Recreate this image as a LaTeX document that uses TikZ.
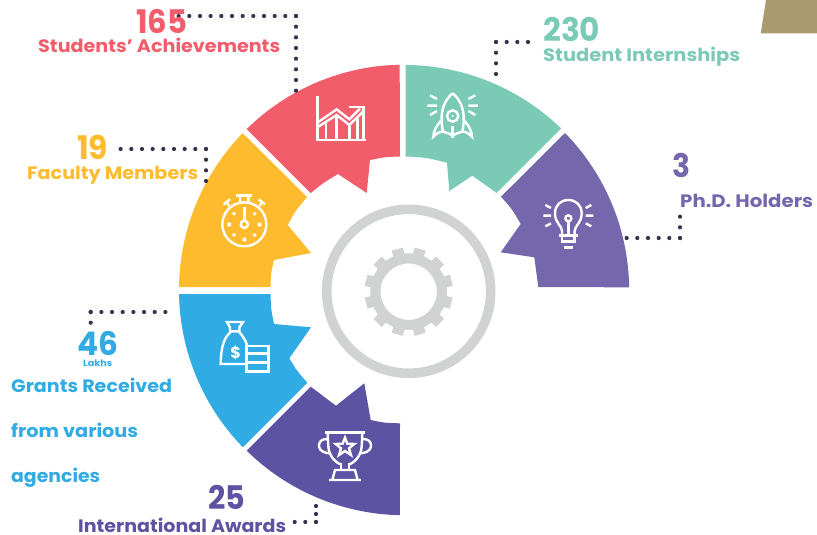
\documentclass[tikz,border=0pt]{standalone}
\usepackage{fontspec}
\usepackage{graphicx}
\setmainfont{Poppins}
\definecolor{cred}{HTML}{F25D6C}
\definecolor{cyel}{HTML}{FEBB2E}
\definecolor{cteal}{HTML}{7ACAB6}
\definecolor{cpur}{HTML}{7467AB}
\definecolor{cblue}{HTML}{30ABE3}
\definecolor{cdark}{HTML}{5C53A2}
\definecolor{cdot}{HTML}{33334D}
\definecolor{cgrey}{HTML}{D1D3D2}
\definecolor{ctan}{HTML}{AA9A6E}
\newcommand{\tw}[2]{\resizebox{#1pt}{\height}{#2}}
\tikzset{
  lbl/.style={inner sep=0pt,anchor=base west,font=\bfseries\fontsize{18}{20}\selectfont},
  big/.style={inner sep=0pt,anchor=base west,font=\bfseries\fontsize{32.5}{34}\selectfont},
  dotline/.style={draw=cdot,line width=4.2pt,line cap=round,dash pattern=on 0pt off 10.67pt},
  shortdots/.style={draw=cdot,line width=4.2pt,line cap=round,dash pattern=on 0pt off 8pt},
  icon/.style={draw=white,line width=2.4pt,line cap=butt,line join=miter},
  zoomgrid/.style={x=0.3333pt,y=-0.3333pt},
}
\begin{document}
\begin{tikzpicture}[x=1pt,y=-1pt]
\useasboundingbox (0,0) rectangle (817,535);
% tan corner
\fill[ctan] (760.7,33.5) -- (766,0) -- (817,0) -- (817,33.5) -- cycle;
% segments
\fill[cred] (246.7,129) arc[start angle=-134.43,end angle=-91.15,radius=225] -- (400,156.5)
  .. controls (385,157) .. (370,160) -- (366.7,193) -- (338,174) .. controls (323,183) .. (310.7,193) -- cycle;
\fill[cyel] (179,287) arc[start angle=-179.2,end angle=-135.87,radius=225.5] -- (307,197)
  .. controls (296,210) .. (287.7,225) -- (311,253) -- (274,260) .. controls (271,273) .. (270.5,287) -- cycle;
\fill[cteal] (405.5,65) arc[start angle=-89.75,end angle=-45.87,radius=225] -- (496.7,193)
  .. controls (485,183.5) .. (472.3,175.7) -- (449.3,191) -- (447,162.7) .. controls (426,157.5) .. (405.5,156.5) -- cycle;
\fill[cpur] (565,133) arc[start angle=-44.37,end angle=-0.76,radius=225] -- (538.3,287)
  .. controls (537,272) .. (534.3,257.3) -- (500.7,252.3) -- (520.7,224) .. controls (512,209) .. (501,196.7) -- cycle;
\fill[cblue] (179,294) arc[start angle=178.98,end angle=135.8,radius=225.5] -- (307.3,382.7)
  .. controls (297,371) .. (289.3,358.3) -- (311,327.3) -- (274,324) .. controls (271,309) .. (270.5,294) -- cycle;
\fill[cdark] (246.7,450.7) arc[start angle=134.5,end angle=91.15,radius=225] -- (400,423.3)
  .. controls (385,423) .. (370.7,420) -- (364.3,383.3) -- (336,405.7) .. controls (323,397) .. (310.7,386.7) -- cycle;
% ring and gear
\coordinate (ringc) at (408.7,291.3);
\node[draw=cgrey,line width=9.6pt,circle,minimum size=164pt,inner sep=0pt] (ring) at (ringc) {};
\begin{scope}[shift={(408.7,291.7)}]
\fill[cgrey,even odd rule] (7:38.5)
  \foreach \a in {15,45,...,345} { -- (\a-8.5:38.5) -- (\a-7.5:44.5) -- (\a+7.5:44.5) -- (\a+8.5:38.5) } -- cycle
  (0,0) circle[radius=28.2];
\end{scope}
% chart icon
\begin{scope}[shift={(310,90)},zoomgrid]
\draw[icon] (22,18) -- (22,150) -- (168,150);
\draw[icon] (22,112) -- (80,75) -- (118,105) -- (158,66);
\draw[icon] (22,98) -- (80,58) -- (118,88) -- (150,56);
\draw[icon] (118,51) -- (160,51) -- (160,150);
\draw[icon] (48,98) -- (48,150) (80,78) -- (80,150) (118,108) -- (118,150) (142,85) -- (142,150);
\end{scope}
% rocket icon
\begin{scope}[shift={(425,90)},zoomgrid]
\draw[icon] (83,10) .. controls (60,28) and (48,60) .. (50,90) .. controls (50,105) and (52,115) .. (54,125);
\draw[icon] (83,10) .. controls (106,28) and (118,60) .. (116,90) .. controls (116,105) and (114,115) .. (112,125);
\draw[icon] (83,78) circle[radius=17];
\fill[white] (83,78) circle[radius=3.5];
\draw[icon] (48,92) .. controls (34,108) and (26,122) .. (25,140) .. controls (35,130) and (45,124) .. (54,125) .. controls (65,127) and (75,132) .. (83,137)
  .. controls (91,132) and (101,127) .. (112,125) .. controls (121,124) and (131,130) .. (141,140) .. controls (140,122) and (132,108) .. (118,92);
\draw[icon] (83,108) -- (83,145);
\draw[icon] (15,16) -- (36,27) (7,47) -- (36,47) (15,75) -- (36,63);
\draw[icon] (151,16) -- (130,27) (159,47) -- (130,47) (151,75) -- (130,63);
\end{scope}
% stopwatch icon
\begin{scope}[shift={(215,190)},zoomgrid]
\draw[icon] (88,103) circle[radius=66];
\draw[icon] (88,103) circle[radius=11];
\draw[icon] (88,92) -- (88,52);
\draw[icon] (62,16) -- (112,16) (75,16) -- (75,38) (100,16) -- (100,38);
\draw[icon] (26,43) -- (45,28) (34,34) -- (42,48);
\draw[icon] (150,43) -- (131,28) (142,34) -- (134,48);
\fill[white] (37,98) rectangle (48,109) (128,98) rectangle (139,109) (83,143) rectangle (94,154);
\fill[white] (57,65) -- (63,71) -- (57,77) -- (51,71) -- cycle (119,65) -- (125,71) -- (119,77) -- (113,71) -- cycle
  (57,129) -- (63,135) -- (57,141) -- (51,135) -- cycle (119,129) -- (125,135) -- (119,141) -- (113,135) -- cycle;
\end{scope}
% bulb icon
\begin{scope}[shift={(540,195)},zoomgrid]
\draw[icon] (66,122) -- (66,108) .. controls (66,92) and (45,85) .. (45,55) .. controls (45,30) and (63,15) .. (85,15) .. controls (107,15) and (125,30) .. (125,55) .. controls (125,85) and (104,92) .. (104,108) -- (104,122);
\draw[icon] (85,70) circle[radius=9];
\draw[icon] (85,79) -- (85,122);
\draw[icon] (56,122) -- (114,122) (66,122) -- (66,140) -- (104,140) -- (104,122);
\draw[icon] (71,158) -- (99,158);
\draw[icon] (16,30) -- (33,39) (10,62) -- (33,62) (16,94) -- (33,85);
\draw[icon] (154,30) -- (137,39) (160,62) -- (137,62) (154,94) -- (137,85);
\end{scope}
% money bag icon
\begin{scope}[shift={(215,318)},zoomgrid]
\draw[icon] (36,12) -- (84,12) -- (73,28) -- (73,40) -- (45,40) -- (45,28) -- cycle;
\draw[icon] (48,42) .. controls (30,55) and (18,80) .. (17,138) -- (95,138);
\draw[icon] (72,42) .. controls (80,50) and (90,62) .. (97,84);
\draw[icon] (95,84) rectangle (160,107) (95,107) rectangle (160,133) (95,133) rectangle (160,160);
\node[font=\bfseries\fontsize{16}{16}\selectfont,text=white,inner sep=0pt] (dollar) at (62,105) {\$};
\end{scope}
% trophy icon
\begin{scope}[shift={(315,425)},zoomgrid]
\draw[icon] (30,22) -- (150,22);
\draw[icon] (38,22) -- (40,65) .. controls (42,95) and (65,115) .. (78,118) (142,22) -- (140,65) .. controls (138,95) and (115,115) .. (102,118);
\draw[icon] (40,44) .. controls (20,38) and (10,52) .. (12,65) .. controls (14,78) and (30,85) .. (46,85);
\draw[icon] (140,44) .. controls (160,38) and (170,52) .. (168,65) .. controls (166,78) and (150,85) .. (134,85);
\draw[icon] (90,38) -- (97,56) -- (118,57) -- (102,70) -- (108,90) -- (90,78) -- (72,90) -- (78,70) -- (62,57) -- (83,56) -- cycle;
\draw[icon] (78,115) -- (78,135) (102,115) -- (102,135);
\draw[icon] (42,165) -- (138,165) (52,165) -- (60,135) -- (120,135) -- (128,165);
\end{scope}
% leader dots
\coordinate (r0) at (296,16); \coordinate (r1) at (178,16); \coordinate (r2) at (296,92.5);
\draw[dotline] (r0) -- (r1); \draw[dotline] (r0) -- (r2);
\coordinate (t0) at (496,42); \coordinate (t1) at (534,42); \coordinate (t2) at (496,84.5);
\draw[dotline] (t0) -- (t1); \draw[dotline] (t0) -- (t2);
\coordinate (y0) at (206,149); \coordinate (y1) at (118,149); \coordinate (y2) at (206,183);
\draw[dotline] (y0) -- (y1); \draw[dotline] (y0) -- (y2);
\coordinate (p0) at (680,238); \coordinate (p1) at (626,238); \coordinate (p2) at (680,212);
\draw[dotline] (p0) -- (p1); \draw[dotline] (p0) -- (p2);
\coordinate (b0) at (90.7,312); \coordinate (b1) at (168,312); \coordinate (b2) at (90.7,323.5);
\draw[dotline] (b0) -- (b1); \draw[dotline] (b0) -- (b2);
\coordinate (d0) at (316,522); \coordinate (d1) at (294,522); \coordinate (d2) at (316,505.5);
\draw[dotline] (d0) -- (d1); \draw[shortdots] (d0) -- (d2);
% labels
\node[big,text=cred] (n165) at (136,34) {\tw{51}{165}};
\node[lbl,text=cred] (tach) at (38,52.6) {\tw{242}{Students’ Achievements}};
\node[big,text=cteal] (n230) at (543,42) {\tw{57}{230}};
\node[lbl,text=cteal] (tint) at (543,62) {\tw{197}{Student Internships}};
\node[big,text=cyel] (n19) at (77,159) {\tw{31}{19}};
\node[lbl,text=cyel] (tfac) at (27,179.5) {\tw{171}{Faculty Members}};
\node[big,text=cpur] (n3) at (672,177) {\tw{18}{3}};
\node[lbl,text=cpur] (tphd) at (680,207) {\tw{133}{Ph.D. Holders}};
\node[big,text=cblue] (n46) at (77,355) {\tw{41}{46}};
\node[lbl,text=cblue,font=\bfseries\fontsize{9}{10}\selectfont] (tlak) at (83,366) {\tw{29}{Lakhs}};
\node[lbl,text=cblue] (tgr1) at (11,392) {\tw{161}{Grants Received}};
\node[lbl,text=cblue] (tgr2) at (11,437) {\tw{127}{from various}};
\node[lbl,text=cblue] (tgr3) at (11,482) {\tw{89}{agencies}};
\node[big,text=cdark] (n25) at (208,509) {\tw{37}{25}};
\node[lbl,text=cdark] (tawd) at (78,532) {\tw{208}{International Awards}};
\end{tikzpicture}
\end{document}
